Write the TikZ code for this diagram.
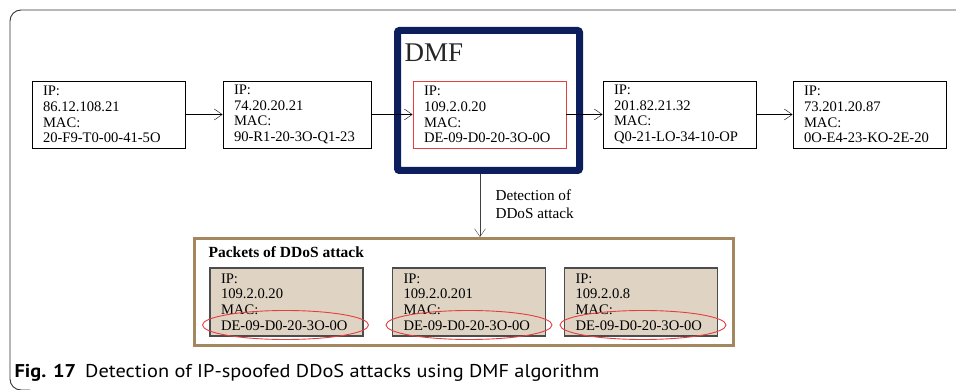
\documentclass[tikz,border=0pt]{standalone}
\usepackage{fontspec}
\usetikzlibrary{arrows.meta}
\setmainfont{Liberation Serif}
\newfontfamily\capfont[FakeStretch=1.1]{PT Sans}
\tikzset{>={Straight Barb[length=8pt,width=11pt]}}
\definecolor{dmfblue}{RGB}{12,30,92}
\definecolor{pktfill}{RGB}{223,212,195}
\definecolor{pktframe}{RGB}{165,135,95}
\definecolor{spoofred}{RGB}{228,62,62}

\begin{document}
\begin{tikzpicture}[x=1pt, y=-1pt,
    host/.style={draw, line width=0.8pt, minimum height=67pt, text width=131pt,
        inner xsep=11pt, inner ysep=2pt, align=left,
        font=\fontsize{14.6}{15.7}\selectfont},
    packet/.style={host, fill=pktfill, draw=black!70, line width=1.2pt, minimum height=68pt},
    spoof/.style={draw=spoofred, line width=0.9pt}]
    \useasboundingbox (0,0) rectangle (956,390);
    % frame of the figure
    \draw[black!80, line width=0.9pt, rounded corners=11pt] (956,10) -- (10,10) -- (10,390) -- (30,390);
    % hosts on the path
    \node[host] (ha) at (108.5,114.5) {IP:\\86.12.108.21\\MAC:\\20-F9-T0-00-41-5O};
    \node[host, text width=126pt] (hb) at (297,114.5) {IP:\\74.20.20.21\\MAC:\\90-R1-20-3O-Q1-23};
    \node[draw=dmfblue, line width=7pt, rounded corners=2pt, minimum width=182pt,
        minimum height=140pt] (dmf) at (488.5,100.5) {};
    \node[anchor=base west, font=\fontsize{27}{27}\selectfont, text=black!85] (dmflabel) at (401,62) {DMF};
    \node[host, draw=spoofred] (hc) at (489.5,114.5) {IP:\\109.2.0.20\\MAC:\\DE-09-D0-20-3O-0O};
    \node[host] (hd) at (679.5,114.5) {IP:\\201.82.21.32\\MAC:\\Q0-21-LO-34-10-OP};
    \node[host] (he) at (869.5,114.5) {IP:\\73.201.20.87\\MAC:\\0O-E4-23-KO-2E-20};
    \draw[->] (ha) -- (hb);
    \draw[->] (hb) -- (hc);
    \draw[->] (hc) -- (hd);
    \draw[->] (hd) -- (he);
    % packets caught by DMF
    \node[draw=pktframe, line width=3pt, minimum width=539pt, minimum height=107pt] (pk) at (464,292) {};
    \node[anchor=base west, font=\fontsize{15.5}{15.5}\selectfont\bfseries] (pklabel) at (205,258) {Packets of DDoS attack};
    \node[packet] (pa) at (286.5,302) {IP:\\109.2.0.20\\MAC:\\DE-09-D0-20-3O-0O};
    \node[packet] (pb) at (469,302) {IP:\\109.2.0.201\\MAC:\\DE-09-D0-20-3O-0O};
    \node[packet] (pc) at (641,302) {IP:\\109.2.0.8\\MAC:\\DE-09-D0-20-3O-0O};
    \draw[spoof] (pa.center) ++(-1,23) ellipse [x radius=83, y radius=14.5];
    \draw[spoof] (pb.center) ++(0,23) ellipse [x radius=83, y radius=14.5];
    \draw[spoof] (pc.center) ++(2,23) ellipse [x radius=83, y radius=14.5];
    \coordinate (det) at (480,0);
    \draw[->, black!75] (dmf.south -| det) -- (pk.north -| det);
    \node[anchor=base west, align=left, font=\fontsize{15.2}{18}\selectfont] (detlabel) at (492,219)
        {Detection of\\DDoS attack};
    % caption
    \node[anchor=base west, font=\capfont\fontsize{18.5}{18.5}\selectfont] (caption) at (11,377)
        {\textbf{Fig. 17}\hspace{9pt}Detection of IP-spoofed DDoS attacks using DMF algorithm};
\end{tikzpicture}
\end{document}
